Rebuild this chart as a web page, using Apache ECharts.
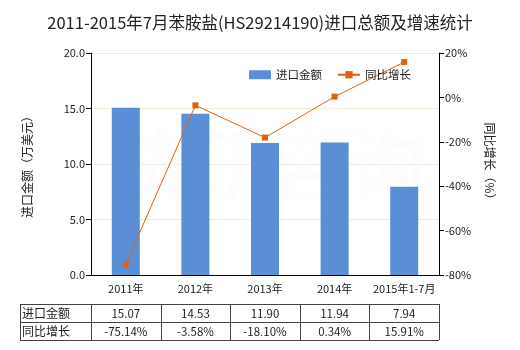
<!DOCTYPE html>
<html><head><meta charset="utf-8">
<script src="https://cdn.jsdelivr.net/npm/echarts@6/dist/echarts.min.js"></script>
<style>html,body{margin:0;padding:0;background:#fff}#c{width:520px;height:350px}</style>
</head><body><div id="c"></div>
<script>
var categories = ['2011年', '2012年', '2013年', '2014年', '2015年1-7月'];
var importValues = [15.07, 14.53, 11.90, 11.94, 7.94];
var growthValues = [-75.14, -3.58, -18.10, 0.34, 15.91];
var importLabels = ['15.07', '14.53', '11.90', '11.94', '7.94'];
var growthLabels = ['-75.14%', '-3.58%', '-18.10%', '0.34%', '15.91%'];
var rowNames = ['进口金额', '同比增长'];

(function () {
var FONT = "'Microsoft YaHei','Noto Sans CJK SC',sans-serif";
var chart = echarts.init(document.getElementById('c'));
var option = {
  animation: false,
  textStyle: {fontFamily: FONT},
  title: {text: '2011-2015年7月苯胺盐(HS29214190)进口总额及增速统计', left: 'center', top: 9,
    textStyle: {fontSize: 16.5, fontWeight: 'normal', color: '#222', fontFamily: FONT}},
  legend: {right: 104, top: 64, itemWidth: 22, itemHeight: 9, itemGap: 15,
    textStyle: {fontSize: 11.5, color: '#222', fontFamily: FONT},
    data: [{name: '进口金额', icon: 'rect'}, {name: '同比增长'}]},
  grid: {left: 91, right: 81, top: 53, bottom: 75},
  xAxis: {type: 'category', data: categories,
    axisLine: {lineStyle: {color: '#000'}},
    axisTick: {alignWithLabel: true, interval: 0, length: 4, lineStyle: {color: '#000'}},
    axisLabel: {color: '#222', fontSize: 11, margin: 8, interval: 0, fontFamily: FONT}},
  yAxis: [
    {type: 'value', min: 0, max: 20, interval: 5, name: '进口金额（万美元）', nameLocation: 'middle',
      nameGap: 58, nameRotate: 90, nameTextStyle: {fontSize: 12, color: '#222', fontFamily: FONT},
      axisLine: {show: true, lineStyle: {color: '#000'}},
      axisTick: {show: true, length: 5, lineStyle: {color: '#000'}},
      axisLabel: {color: '#222', fontSize: 11, margin: 6, formatter: function (v) { return v.toFixed(1); }},
      splitLine: {lineStyle: {color: '#eeecd8'}}},
    {type: 'value', min: -80, max: 20, interval: 20, name: '同比增长（%）', nameLocation: 'middle',
      nameGap: 45, nameRotate: -90, nameTextStyle: {fontSize: 12, color: '#222', fontFamily: FONT},
      axisLine: {show: true, lineStyle: {color: '#000'}},
      axisTick: {show: true, length: 5, lineStyle: {color: '#000'}},
      axisLabel: {color: '#222', fontSize: 11, margin: 6, formatter: '{value}%'},
      splitLine: {show: false}}
  ],
  series: [
    {name: '进口金额', type: 'bar', data: importValues, barWidth: 28, itemStyle: {color: '#5a8fd6'}},
    {name: '同比增长', type: 'line', yAxisIndex: 1, data: growthValues, symbol: 'rect', symbolSize: 6,
      lineStyle: {color: '#e0620f', width: 1}, itemStyle: {color: '#e0620f'}}
  ]
};
chart.setOption(option);

var g = [];
var px0 = chart.convertToPixel({xAxisIndex: 0}, categories[0]);
var px1 = chart.convertToPixel({xAxisIndex: 0}, categories[1]);
var band = px1 - px0;
var tLeft = 20, colStart = px0 - band / 2, tRight = colStart + band * categories.length;
var tTop = 304, rowH = 18;
var ls = {stroke: '#444', lineWidth: 1};
for (var r = 0; r <= 2; r++) {
  var yy = tTop + r * rowH + 0.5;
  g.push({type: 'line', shape: {x1: tLeft, y1: yy, x2: tRight, y2: yy}, style: ls});
}
g.push({type: 'line', shape: {x1: tLeft + 0.5, y1: tTop, x2: tLeft + 0.5, y2: tTop + 2 * rowH}, style: ls});
for (var c = 0; c <= categories.length; c++) {
  var xx = Math.round(colStart + c * band) + 0.5;
  g.push({type: 'line', shape: {x1: xx, y1: tTop, x2: xx, y2: tTop + 2 * rowH}, style: ls});
}
var rows = [importLabels, growthLabels];
for (var r2 = 0; r2 < 2; r2++) {
  g.push({type: 'text', x: tLeft + 2, y: tTop + r2 * rowH + rowH / 2,
    style: {text: rowNames[r2], fill: '#222', font: '12px ' + FONT, verticalAlign: 'middle', align: 'left'}});
  for (var i = 0; i < categories.length; i++) {
    var cx = chart.convertToPixel({xAxisIndex: 0}, categories[i]);
    g.push({type: 'text', x: cx, y: tTop + r2 * rowH + rowH / 2 + 1,
      style: {text: rows[r2][i], fill: '#222', font: '11.5px ' + FONT, verticalAlign: 'middle', align: 'center'}});
  }
}
g.push({type: 'text', x: 270, y: 165, z: 1,
  style: {text: '济研咨询', fill: 'rgba(250,250,250,0.35)', font: 'bold 78px ' + FONT, align: 'center', verticalAlign: 'middle'}});
chart.setOption({graphic: g});
})();
</script></body></html>
